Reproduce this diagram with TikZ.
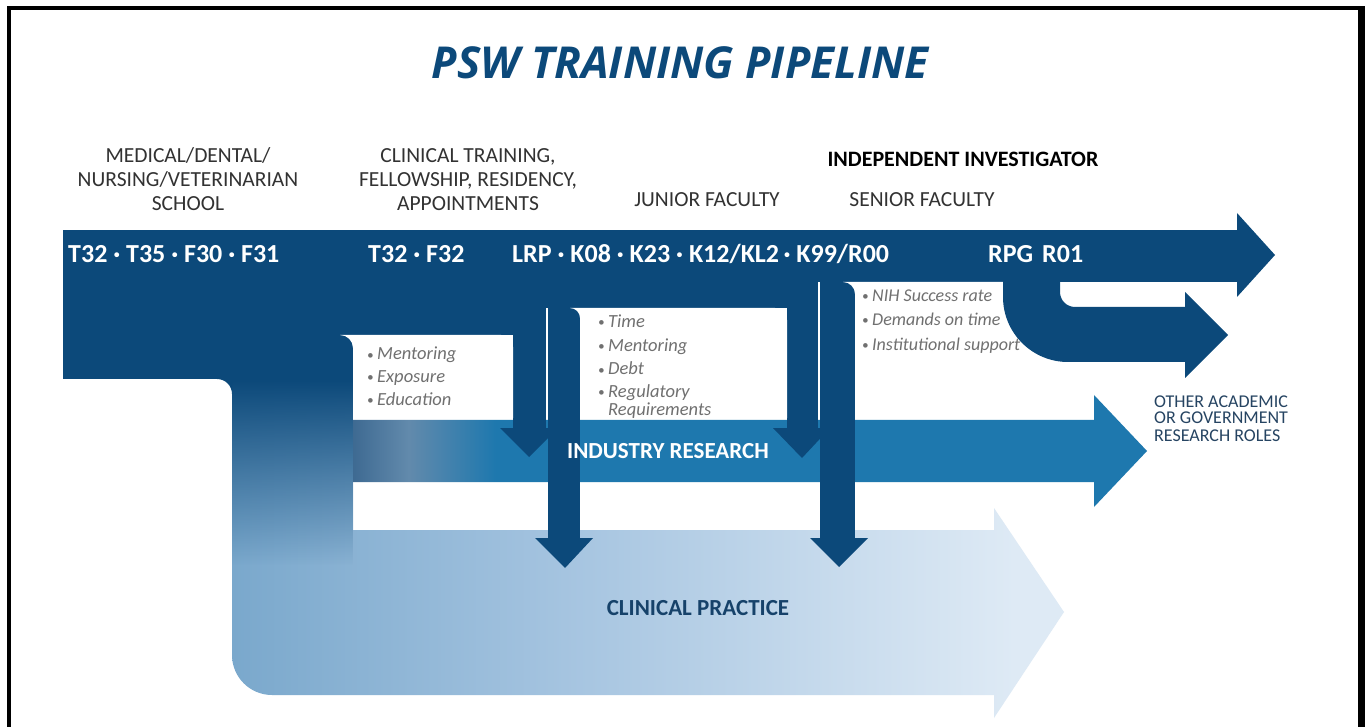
\documentclass[tikz,border=0pt]{standalone}
\usepackage{fontspec}
\setmainfont{Carlito}
\newfontfamily\titlefont{Open Sans}
\usetikzlibrary{fadings}
\definecolor{dkblue}{RGB}{12,73,122}
\definecolor{midblue}{RGB}{30,120,174}
\definecolor{indA}{RGB}{62,106,146}
\definecolor{indB}{RGB}{98,138,172}
\definecolor{clinL}{RGB}{122,168,204}
\definecolor{clinM}{RGB}{165,196,224}
\definecolor{clinR}{RGB}{222,234,245}
\definecolor{hdrgray}{RGB}{50,50,50}
\definecolor{bulgray}{RGB}{112,112,112}
\definecolor{roletext}{RGB}{38,68,98}
\definecolor{clintext}{RGB}{22,66,106}
\pgfdeclarehorizontalshading{clinshade}{100bp}{color(0bp)=(clinL); color(25bp)=(clinL); color(45bp)=(clinM); color(72bp)=(clinR); color(100bp)=(clinR)}
\pgfdeclarehorizontalshading{indshade}{100bp}{color(0bp)=(indA); color(25bp)=(indA); color(28.5bp)=(indB); color(34bp)=(midblue); color(100bp)=(midblue)}
\tikzfading[name=colfade, top color=transparent!0, bottom color=transparent!100]
\newcommand{\bu}{\makebox[10pt][l]{\fontsize{13}{13}\selectfont\raisebox{1pt}{•}}}
\begin{document}
\begin{tikzpicture}[x=1pt,y=-1pt,
  hdr/.style={font=\fontsize{21.5}{24}\selectfont, text=hdrgray, anchor=base, inner sep=0},
  codetext/.style={font=\fontsize{26}{30}\selectfont\bfseries, text=white, anchor=base west, inner sep=0},
  bul/.style={font=\fontsize{18.5}{22}\selectfont\itshape, text=bulgray, anchor=base west, inner sep=0},
  role/.style={font=\fontsize{18}{18}\selectfont, text=roletext, anchor=base west, inner sep=0},
  darkfill/.style={fill=dkblue},
  sep/.style={draw=white, line width=1.5pt}]
\useasboundingbox (0,0) rectangle (1369,727);
\fill[white] (0,0) rectangle (1369,727);
% frame
\fill[black] (7,6) rectangle (1365,10);
\fill[black] (7,6) rectangle (11,727);
\fill[black] (1358,6) rectangle (1365,727);
% clinical practice L arrow
\shade[shading=clinshade] (232,335) -- (353,335) -- (353,530) -- (994,530) -- (994,508) -- (1064,612) -- (994,718) -- (994,695) -- (272,695) arc[start angle=90, end angle=180, radius=40] -- cycle;
% column darkening
\fill[darkfill] (232,330) rectangle (353,381);
\fill[darkfill, path fading=colfade] (232,380) rectangle (353,565);
% main dark structure
\fill[darkfill] (63,230) rectangle (1237,282);
\fill[darkfill] (1237,213) -- (1275,255) -- (1237,297) -- cycle;
\fill[darkfill] (63,230) rectangle (232,379);
\fill[darkfill] (232,379) -- (232,394) arc[start angle=0, end angle=-90, radius=15] -- cycle;
\fill[darkfill] (232,230) rectangle (513,335);
\fill[darkfill] (513,230) rectangle (787,308);
\fill[darkfill] (513,280) rectangle (546,430);
\fill[darkfill] (548,280) rectangle (580,430);
\fill[darkfill] (787,280) rectangle (818,430);
\fill[darkfill] (820,280) rectangle (855,430);
% white boxes
\fill[white] (340,335) arc[start angle=-90, end angle=0, radius=13] -- (353,420) -- (513,420) -- (513,347) arc[start angle=0, end angle=-90, radius=12] -- cycle;
\fill[white] (570,308) arc[start angle=-90, end angle=0, radius=10] -- (580,420) -- (787,420) -- (787,320) arc[start angle=0, end angle=-90, radius=12] -- cycle;
\fill[white] (843,282) arc[start angle=-90, end angle=0, radius=12] -- (855,420) -- (1003,420) -- (1003,282) -- cycle;
\draw[sep] (547,337) -- (547,420);
\draw[sep] (819,320) -- (819,420);
% industry research arrow
\shade[shading=indshade] (353,420) -- (1094,420) -- (1094,395) -- (1147,451) -- (1094,507) -- (1094,482) -- (353,482) -- cycle;
% down arrows
\fill[darkfill] (513,418) rectangle (546,429);
\fill[darkfill] (500,428) -- (529,457) -- (558,428) -- cycle;
\fill[darkfill] (787,418) rectangle (818,429);
\fill[darkfill] (773,428) -- (802,458) -- (830,428) -- cycle;
\fill[darkfill] (548,418) rectangle (580,539);
\fill[darkfill] (535,538) -- (565,568) -- (593,538) -- cycle;
\fill[darkfill] (820,418) rectangle (855,539);
\fill[darkfill] (810,538) -- (839,567) -- (868,538) -- cycle;
% curved arrow
\fill[darkfill] (1003,280) -- (1003,297) arc[start angle=180, end angle=90, radius=65] -- (1185,362) -- (1185,378) -- (1228,335) -- (1185,292) -- (1185,307) -- (1075,307) arc[start angle=90, end angle=180, radius=15] -- (1060,280) -- cycle;
% title
\node[font=\titlefont\fontsize{44}{48}\selectfont\bfseries\itshape, text=dkblue, anchor=base, inner sep=0] (title) at (680,79) {PSW TRAINING PIPELINE};
% stage headers
\node[hdr] (s1a) at (188,163) {MEDICAL/DENTAL/};
\node[hdr] (s1b) at (188,187) {NURSING/VETERINARIAN};
\node[hdr] (s1c) at (188,211) {SCHOOL};
\node[hdr] (s2a) at (468,163) {CLINICAL TRAINING,};
\node[hdr] (s2b) at (468,187) {FELLOWSHIP, RESIDENCY,};
\node[hdr] (s2c) at (468,211) {APPOINTMENTS};
\node[hdr] (s3) at (707,207) {JUNIOR FACULTY};
\node[hdr] (s4) at (922,207) {SENIOR FACULTY};
\node[hdr, font=\fontsize{22}{24}\selectfont\bfseries, text=black] (s5) at (963,167) {INDEPENDENT INVESTIGATOR};
% grant codes
\node[codetext] (c1) at (68,263) {T32 · T35 · F30 · F31};
\node[codetext] (c2) at (368,263) {T32 · F32};
\node[codetext] (c3) at (512,263) {LRP · K08 · K23 · K12/KL2\,· K99/R00};
\node[codetext] (c4) at (988,263) {RPG};
\node[codetext] (c5) at (1042,263) {R01};
% barriers
\node[bul] (b1a) at (367,360) {\bu Mentoring};
\node[bul] (b1b) at (367,383) {\bu Exposure};
\node[bul] (b1c) at (367,406) {\bu Education};
\node[bul] (b2a) at (598,328) {\bu Time};
\node[bul] (b2b) at (598,352) {\bu Mentoring};
\node[bul] (b2c) at (598,375) {\bu Debt};
\node[bul] (b2d) at (598,398) {\bu Regulatory};
\node[bul] (b2e) at (608,415) {Requirements};
\node[bul, font=\fontsize{18}{22}\selectfont\itshape] (b3a) at (862,302) {\bu NIH Success rate};
\node[bul, font=\fontsize{18}{22}\selectfont\itshape] (b3b) at (862,326) {\bu Demands on time};
\node[bul, font=\fontsize{18}{22}\selectfont\itshape] (b3c) at (862,351) {\bu Institutional support};
% outcomes
\node[font=\fontsize{23}{26}\selectfont\bfseries, text=white, anchor=base, inner sep=0] (ind) at (668,458) {INDUSTRY RESEARCH};
\node[font=\fontsize{23}{26}\selectfont\bfseries, text=clintext, anchor=base, inner sep=0] (clin) at (698,615) {CLINICAL PRACTICE};
\node[role] (r1) at (1154,407) {OTHER ACADEMIC};
\node[role] (r2) at (1154,424) {OR GOVERNMENT};
\node[role] (r3) at (1154,441) {RESEARCH ROLES};
\end{tikzpicture}
\end{document}
